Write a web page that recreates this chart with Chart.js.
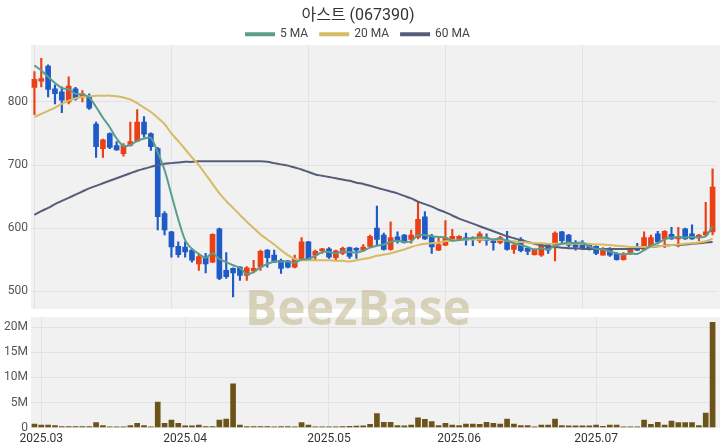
<!DOCTYPE html>
<html>
<head>
<meta charset="utf-8">
<script src="https://cdn.jsdelivr.net/npm/chart.js@4.4.1/dist/chart.umd.min.js"></script>
<style>
  body { margin: 0; background: #fff; overflow: hidden; }
  #wrap { position: relative; width: 720px; height: 448px; overflow: hidden; }
  #top { position: absolute; left: 0; top: 0; width: 720px; height: 319px; }
  #bottom { position: absolute; left: 0; top: 307px; width: 720px; height: 143px; }
  #mark { position: absolute; left: -2px; top: 283px; width: 720px; text-align: center;
          font: bold 48px "Open Sans", sans-serif; line-height: 48px;
          color: rgba(190, 176, 128, 0.5); pointer-events: none; }
</style>
</head>
<body>
<div id="wrap">
  <div id="top"><canvas id="priceChart"></canvas></div>
  <div id="bottom"><canvas id="volChart"></canvas></div>
  <div id="mark">BeezBase</div>
</div>
<script>
// 거래일
var dates = [
  '2025-02-28',
  '2025-03-03','2025-03-04','2025-03-05','2025-03-06','2025-03-07','2025-03-10','2025-03-11','2025-03-12','2025-03-13','2025-03-14',
  '2025-03-17','2025-03-18','2025-03-19','2025-03-20','2025-03-21','2025-03-24','2025-03-25','2025-03-26','2025-03-27','2025-03-28','2025-03-31',
  '2025-04-01','2025-04-02','2025-04-03','2025-04-04','2025-04-07','2025-04-08','2025-04-09','2025-04-10','2025-04-11','2025-04-14',
  '2025-04-15','2025-04-16','2025-04-17','2025-04-18','2025-04-21','2025-04-22','2025-04-23','2025-04-24','2025-04-25','2025-04-28','2025-04-29',
  '2025-05-02','2025-05-07','2025-05-08','2025-05-09','2025-05-12','2025-05-13','2025-05-14','2025-05-15','2025-05-16','2025-05-19',
  '2025-05-20','2025-05-21','2025-05-22','2025-05-23','2025-05-26','2025-05-27','2025-05-28','2025-05-29','2025-05-30',
  '2025-06-02','2025-06-03','2025-06-04','2025-06-05','2025-06-09','2025-06-10','2025-06-11','2025-06-12','2025-06-13','2025-06-16',
  '2025-06-17','2025-06-18','2025-06-19','2025-06-20','2025-06-23','2025-06-24','2025-06-25','2025-06-26','2025-06-27','2025-06-30',
  '2025-07-01','2025-07-02','2025-07-03','2025-07-04','2025-07-07','2025-07-08','2025-07-09','2025-07-10','2025-07-11','2025-07-14',
  '2025-07-15','2025-07-16','2025-07-17','2025-07-18','2025-07-21','2025-07-22','2025-07-23','2025-07-24'
];

var opens = [
  823, 833, 857, 821, 816, 800, 821, 808, 808, 765,
  726, 750, 731, 718, 731, 738, 768, 750, 726, 623,
  594, 571, 570, 565, 543, 555, 546, 599, 533, 536,
  538, 525, 532, 538, 565, 557, 549, 548, 538, 551,
  578, 557, 564, 567, 553, 560, 569, 568, 565, 571,
  600, 589, 566, 586, 589, 582, 585, 618, 586, 565,
  573, 583, 582, 585, 585, 580, 585, 580, 577, 581,
  566, 582, 568, 558, 557, 575, 573, 594, 589, 575,
  575, 573, 571, 557, 567, 560, 550, 560, 571, 566,
  571, 591, 583, 590, 583, 599, 591, 585, 589, 594
];
var highs = [
  848, 869, 859, 827, 824, 840, 823, 818, 813, 768,
  741, 751, 737, 734, 768, 788, 777, 751, 728, 626,
  595, 578, 578, 568, 558, 560, 591, 600, 561, 537,
  539, 539, 549, 565, 566, 565, 551, 549, 557, 585,
  579, 565, 568, 569, 565, 570, 570, 569, 574, 589,
  635, 592, 610, 594, 590, 597, 642, 626, 590, 585,
  612, 598, 588, 592, 586, 594, 591, 581, 587, 595,
  574, 585, 570, 567, 576, 576, 594, 595, 590, 580,
  580, 574, 572, 569, 569, 561, 561, 568, 576, 594,
  589, 595, 596, 601, 601, 600, 605, 590, 641, 694
];
var lows = [
  780, 824, 808, 797, 783, 797, 803, 800, 788, 712,
  712, 726, 723, 714, 730, 737, 744, 723, 597, 589,
  554, 554, 554, 546, 533, 529, 545, 518, 520, 491,
  517, 517, 529, 533, 538, 545, 528, 537, 537, 550,
  549, 549, 560, 552, 550, 558, 552, 552, 563, 570,
  573, 565, 565, 576, 576, 576, 583, 582, 560, 564,
  572, 582, 581, 573, 572, 577, 573, 565, 575, 565,
  560, 562, 558, 557, 555, 560, 548, 576, 570, 565,
  566, 565, 558, 557, 555, 549, 549, 558, 564, 565,
  569, 575, 569, 582, 570, 582, 582, 580, 587, 589
];
var closes = [
  836, 837, 820, 813, 803, 825, 805, 813, 790, 729,
  740, 728, 724, 731, 737, 768, 749, 729, 618, 597,
  570, 558, 562, 549, 555, 543, 590, 520, 523, 529,
  525, 537, 536, 563, 553, 546, 536, 538, 551, 578,
  550, 563, 567, 554, 564, 568, 555, 565, 570, 587,
  582, 566, 585, 580, 577, 589, 614, 583, 570, 574,
  585, 587, 587, 581, 582, 591, 580, 577, 585, 566,
  573, 564, 563, 566, 574, 565, 592, 580, 573, 570,
  568, 566, 560, 566, 557, 550, 559, 566, 565, 585,
  585, 578, 595, 583, 587, 583, 583, 589, 594, 665
];
var volumes = [
  720000, 520000, 520000, 400000, 200000, 200000, 200000, 200000, 200000, 1000000,
  400000, 150000, 150000, 150000, 400000, 850000, 400000, 150000, 5100000, 850000,
  1500000, 850000, 330000, 330000, 500000, 200000, 200000, 1500000, 1700000, 8700000,
  500000, 200000, 200000, 200000, 200000, 150000, 200000, 200000, 150000, 1000000,
  500000, 150000, 150000, 150000, 150000, 200000, 250000, 300000, 350000, 650000,
  2800000, 1050000, 1050000, 400000, 330000, 520000, 1960000, 1630000, 1180000, 400000,
  850000, 520000, 400000, 720000, 720000, 650000, 1050000, 850000, 720000, 1700000,
  720000, 400000, 400000, 130000, 500000, 500000, 1700000, 400000, 330000, 330000,
  330000, 330000, 500000, 260000, 500000, 500000, 130000, 130000, 130000, 1500000,
  650000, 1050000, 500000, 1300000, 1000000, 1000000, 1000000, 400000, 2900000, 21000000
];
var ma5 = [
  858, 850, 840, 830, 822, 820, 813, 812, 807, 792,
  775, 760, 742, 730, 732, 738, 742, 743, 720, 692,
  653, 614, 581, 567, 559, 553, 560, 551, 546, 541,
  537, 527, 530, 538, 543, 547, 547, 547, 545, 550,
  551, 556, 562, 562, 560, 563, 562, 561, 564, 569,
  572, 574, 578, 580, 578, 579, 589, 589, 587, 586,
  585, 580, 581, 583, 584, 586, 584, 582, 583, 580,
  576, 573, 570, 566, 568, 566, 572, 575, 577, 576,
  577, 571, 567, 566, 563, 560, 558, 560, 559, 565,
  572, 576, 582, 585, 586, 585, 586, 585, 587, 603
];
var ma20 = [
  776, 781, 786, 791, 797, 802, 806, 808, 809, 810,
  810, 810, 809, 807, 804, 798, 791, 784, 775, 765,
  750, 738, 725, 712, 700, 685, 670, 655, 643, 632,
  621, 610, 600, 590, 582, 574, 565, 557, 551, 549,
  549, 549, 549, 549, 548, 548, 547, 549, 551, 553,
  556, 558, 560, 563, 566, 570, 573, 575, 576, 577,
  579, 580, 581, 582, 582, 582, 582, 582, 581, 580,
  579, 578, 577, 576, 576, 575, 575, 575, 575, 575,
  575, 575, 574, 574, 573, 572, 571, 570, 570, 570,
  570, 571, 572, 573, 574, 575, 576, 577, 579, 583
];
var ma60 = [
  621, 627, 632, 638, 643, 648, 653, 658, 663, 667,
  671, 675, 679, 683, 687, 691, 694, 697, 700, 702,
  703, 704, 705, 705, 706, 706, 706, 706, 706, 706,
  706, 706, 706, 706, 705, 703, 701, 699, 696, 693,
  689, 685, 683, 681, 679, 677, 675, 672, 670, 667,
  664, 661, 658, 655, 651, 647, 642, 638, 634, 629,
  625, 620, 615, 611, 607, 603, 599, 595, 591, 587,
  584, 581, 578, 575, 573, 571, 570, 569, 568, 568,
  567, 567, 567, 567, 567, 567, 567, 567, 568, 569,
  570, 571, 572, 573, 573, 574, 575, 576, 577, 578
];
var priceTicks = [500, 600, 700, 800];
var volumeTicks = [0, 5000000, 10000000, 15000000, 20000000];

var UP = '#eb4016';
var DOWN = '#1f5bc7';
var candleColors = closes.map(function(c, i) { return c >= opens[i] ? UP : DOWN; });

Chart.defaults.font.family = "Roboto, 'Noto Sans CJK KR', sans-serif";
Chart.defaults.color = '#555';
Chart.defaults.animation = false;

// 패널 배경
var panelBg = {
  id: 'panelBg',
  beforeDraw: function(chart) {
    var a = chart.chartArea;
    var ctx = chart.ctx;
    ctx.save();
    ctx.fillStyle = '#f1f1f1';
    ctx.fillRect(a.left, a.top, chart.width - a.left, a.bottom - a.top);
    ctx.restore();
  }
};

function monthLabel(i) {
  if (i > 0 && dates[i].slice(5, 7) !== dates[i - 1].slice(5, 7)) {
    return dates[i].slice(0, 7).replace('-', '.');
  }
  return '';
}

var ctx1 = document.getElementById('priceChart').getContext('2d');
new Chart(ctx1, {
  type: 'bar',
  data: {
    labels: dates,
    datasets: [
      { type: 'line', label: '5 MA', data: ma5, borderColor: '#5b9d8b', backgroundColor: '#5b9d8b',
        borderWidth: 2, pointRadius: 0, tension: 0.3, order: 0 },
      { type: 'line', label: '20 MA', data: ma20, borderColor: '#d6bb62', backgroundColor: '#d6bb62',
        borderWidth: 2, pointRadius: 0, tension: 0.3, order: 0 },
      { type: 'line', label: '60 MA', data: ma60, borderColor: '#565d7b', backgroundColor: '#565d7b',
        borderWidth: 2, pointRadius: 0, tension: 0.3, order: 0 },
      { label: 'wick', data: lows.map(function(l, i) { return [l, highs[i]]; }),
        backgroundColor: candleColors, barThickness: 1.5, grouped: false, order: 2 },
      { label: 'body', data: opens.map(function(o, i) { return [o, closes[i]]; }),
        backgroundColor: candleColors, barThickness: 5, minBarLength: 1, grouped: false, order: 1 }
    ]
  },
  options: {
    responsive: true,
    maintainAspectRatio: false,
    layout: { padding: { right: 4, bottom: 0 } },
    plugins: {
      title: { display: true, text: '아스트 (067390)', color: '#333',
        font: { size: 16, weight: 'normal' }, padding: { top: 6, bottom: -9 } },
      legend: {
        maxHeight: 29,
        labels: { boxWidth: 28, boxHeight: 2, padding: 12, color: '#444', font: { size: 12 },
          filter: function(item) { return item.text.indexOf('MA') >= 0; } }
      },
      tooltip: { enabled: false }
    },
    scales: {
      x: {
        ticks: { display: false, autoSkip: false },
        grid: { offset: false, drawTicks: false,
          color: function(c) { return c.index % 20 === 0 ? '#e2e2e2' : 'transparent'; } },
        border: { display: false }
      },
      y: {
        min: 472, max: 890,
        afterBuildTicks: function(axis) { axis.ticks = priceTicks.map(function(v) { return { value: v }; }); },
        afterFit: function(axis) { axis.width = 31; },
        ticks: { padding: 3, font: { size: 12 } },
        grid: { color: '#e2e2e2', drawTicks: false },
        border: { display: false }
      }
    }
  },
  plugins: [panelBg]
});

var ctx2 = document.getElementById('volChart').getContext('2d');
new Chart(ctx2, {
  type: 'bar',
  data: {
    labels: dates,
    datasets: [{ label: 'Volume', data: volumes, backgroundColor: '#6c5317', barThickness: 5 }]
  },
  options: {
    responsive: true,
    maintainAspectRatio: false,
    layout: { padding: { top: 0, right: 4, bottom: 0 } },
    plugins: { legend: { display: false }, tooltip: { enabled: false } },
    scales: {
      x: {
        ticks: { autoSkip: false, maxRotation: 0, padding: 4, color: '#333', font: { size: 12 },
          callback: function(v, i) { return monthLabel(i); } },
        grid: { offset: false, drawTicks: false,
          color: function(c) { return monthLabel(c.index) ? '#e2e2e2' : 'transparent'; } },
        border: { display: false }
      },
      y: {
        min: 0, max: 22000000,
        afterBuildTicks: function(axis) { axis.ticks = volumeTicks.map(function(v) { return { value: v }; }); },
        afterFit: function(axis) { axis.width = 31; },
        ticks: { padding: 3, font: { size: 12 },
          callback: function(v) { return v === 0 ? '0' : (v / 1000000) + 'M'; } },
        grid: { color: '#e2e2e2', drawTicks: false },
        border: { display: false }
      }
    }
  },
  plugins: [panelBg]
});
</script>
</body>
</html>
